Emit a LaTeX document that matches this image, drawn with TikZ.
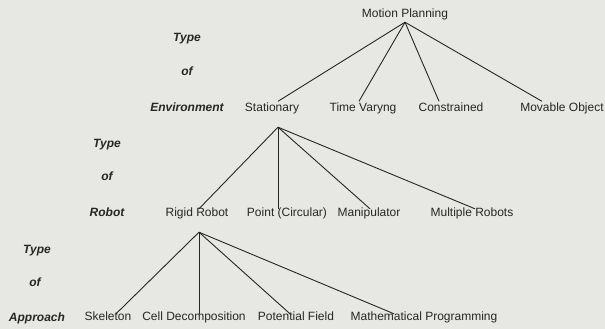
\documentclass[tikz,border=0pt]{standalone}
\usepackage{fontspec}
\setmainfont{Liberation Sans}
\definecolor{paper}{RGB}{231,231,228}
\definecolor{ink}{RGB}{38,38,38}
\tikzset{
    item/.style={anchor=base, inner sep=1pt, text height=9pt, text depth=3pt, text=ink, font=\fontsize{12}{14}\selectfont},
    kindlabel/.style={item, font=\fontsize{12}{14}\selectfont\bfseries\itshape},
    branch/.style={draw=ink, line width=0.9pt}
}

\begin{document}
\begin{tikzpicture}[x=1pt, y=-1pt]

    \fill[paper] (0,0) rectangle (605,329);
    \useasboundingbox (0,0) rectangle (605,329);

    % left column: what each level stands for
    \node[kindlabel] (t1) at (187,42) {Type};
    \node[kindlabel] (o1) at (187,75) {of};
    \node[kindlabel] (k1) at (187,111.5) {Environment};

    \node[kindlabel] (t2) at (107,147) {Type};
    \node[kindlabel] (o2) at (107,180) {of};
    \node[kindlabel] (k2) at (107,216) {Robot};

    \node[kindlabel] (t3) at (37,253) {Type};
    \node[kindlabel] (o3) at (35,286) {of};
    \node[kindlabel] (k3) at (37,321) {Approach};

    % the tree
    \node[item] (mp) at (405,18) {Motion Planning};

    \node[item] (sta) at (272,111.5) {Stationary};
    \node[item] (tv)  at (363,111.5) {Time Varyng};
    \node[item] (con) at (451,111.5) {Constrained};
    \node[item] (mov) at (562,111.5) {Movable Object};

    \node[item] (rr)  at (197,216) {Rigid Robot};
    \node[item] (pc)  at (287,216) {Point (Circular)};
    \node[item] (man) at (369,216) {Manipulator};
    \node[item] (mul) at (472,216) {Multiple Robots};

    \node[item] (sk)  at (108,320) {Skeleton};
    \node[item] (cd)  at (194,320) {Cell Decomposition};
    \node[item] (pf)  at (296,320) {Potential Field};
    \node[item] (mat) at (424,320) {Mathematical Programming};

    \coordinate (sta-fork) at ([xshift=6pt, yshift=-11.5pt]sta.south);
    \coordinate (rr-fork)  at ([xshift=2pt, yshift=-12pt]rr.south);

    \draw[branch] (mp.south) -- ([xshift=6pt]sta.north);
    \draw[branch] (mp.south) -- ([xshift=-4pt]tv.north);
    \draw[branch] (mp.south) -- ([xshift=-12pt]con.north);
    \draw[branch] (mp.south) -- ([xshift=-20pt]mov.north);

    \draw[branch] (sta-fork) -- ([xshift=2pt, yshift=-3pt]rr.north);
    \draw[branch] (sta-fork) -- ([xshift=-9pt, yshift=-3pt]pc.north);
    \draw[branch] (sta-fork) -- ([xshift=1pt, yshift=-3pt]man.north);
    \draw[branch] (sta-fork) -- ([xshift=3pt, yshift=-3pt]mul.north);

    \draw[branch] (rr-fork) -- ([xshift=8pt, yshift=-4pt]sk.north);
    \draw[branch] (rr-fork) -- ([xshift=5pt, yshift=-4pt]cd.north);
    \draw[branch] (rr-fork) -- ([xshift=-6pt, yshift=-4pt]pf.north);
    \draw[branch] (rr-fork) -- ([xshift=-30pt, yshift=-4pt]mat.north);

\end{tikzpicture}
\end{document}
